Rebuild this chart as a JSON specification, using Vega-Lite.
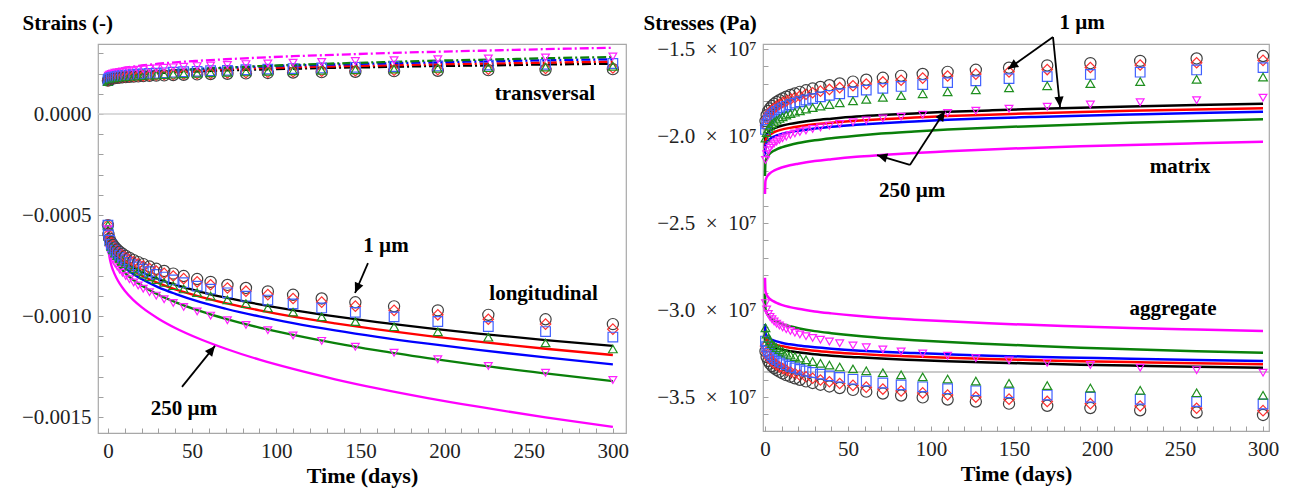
{
"$schema": "https://vega.github.io/schema/vega-lite/v6.json",
"background": "white",
"autosize": {"type": "pad"},
"padding": {"left": 20, "top": 11, "right": 2, "bottom": 2},
"spacing": 137,
"bounds": "flush",
"config": {
  "font": "Liberation Serif",
  "view": {"stroke": "#a8a8a8", "strokeWidth": 1.2},
  "axis": {"labelFont": "Liberation Serif", "labelFontSize": 21, "labelColor": "#222222", "titleFont": "Liberation Serif", "titleFontWeight": "bold", "titleColor": "#000000", "grid": false, "domain": false, "tickColor": "#a0a0a0", "tickSize": -5, "tickWidth": 1, "labelPadding": 12},
  "text": {"font": "Liberation Serif", "fontWeight": "bold", "fontSize": 21, "color": "#000000"}
},
"datasets": {
"LL": [
{"t":0,"k":-0.000550,"r":-0.000550,"b":-0.000550,"g":-0.000550,"m":-0.000580},
{"t":0.25,"k":-0.000600,"r":-0.000604,"b":-0.000608,"g":-0.000615,"m":-0.000661},
{"t":0.5,"k":-0.000614,"r":-0.000619,"b":-0.000623,"g":-0.000632,"m":-0.000683},
{"t":1,"k":-0.000631,"r":-0.000637,"b":-0.000644,"g":-0.000655,"m":-0.000712},
{"t":2,"k":-0.000654,"r":-0.000661,"b":-0.000669,"g":-0.000684,"m":-0.000748},
{"t":3,"k":-0.000669,"r":-0.000678,"b":-0.000688,"g":-0.000704,"m":-0.000773},
{"t":5,"k":-0.000693,"r":-0.000703,"b":-0.000714,"g":-0.000734,"m":-0.000811},
{"t":7,"k":-0.000711,"r":-0.000723,"b":-0.000735,"g":-0.000757,"m":-0.000840},
{"t":10,"k":-0.000732,"r":-0.000746,"b":-0.000760,"g":-0.000785,"m":-0.000875},
{"t":15,"k":-0.000760,"r":-0.000775,"b":-0.000792,"g":-0.000821,"m":-0.000920},
{"t":20,"k":-0.000782,"r":-0.000799,"b":-0.000817,"g":-0.000849,"m":-0.000956},
{"t":30,"k":-0.000817,"r":-0.000837,"b":-0.000858,"g":-0.000895,"m":-0.001013},
{"t":40,"k":-0.000845,"r":-0.000868,"b":-0.000890,"g":-0.000931,"m":-0.001059},
{"t":55,"k":-0.000880,"r":-0.000905,"b":-0.000931,"g":-0.000976,"m":-0.001115},
{"t":70,"k":-0.000909,"r":-0.000936,"b":-0.000964,"g":-0.001014,"m":-0.001162},
{"t":90,"k":-0.000942,"r":-0.000972,"b":-0.001002,"g":-0.001057,"m":-0.001216},
{"t":110,"k":-0.000971,"r":-0.001003,"b":-0.001035,"g":-0.001093,"m":-0.001262},
{"t":135,"k":-0.001002,"r":-0.001036,"b":-0.001071,"g":-0.001134,"m":-0.001313},
{"t":160,"k":-0.001030,"r":-0.001066,"b":-0.001103,"g":-0.001170,"m":-0.001358},
{"t":190,"k":-0.001060,"r":-0.001098,"b":-0.001137,"g":-0.001208,"m":-0.001406},
{"t":220,"k":-0.001087,"r":-0.001127,"b":-0.001168,"g":-0.001243,"m":-0.001449},
{"t":260,"k":-0.001119,"r":-0.001162,"b":-0.001205,"g":-0.001284,"m":-0.001502},
{"t":300,"k":-0.001148,"r":-0.001193,"b":-0.001239,"g":-0.001322,"m":-0.001549}
],
"LT": [
{"t":0,"k":0.000165,"r":0.000165,"b":0.000165,"g":0.000150,"m":0.000185},
{"t":0.25,"k":0.000172,"r":0.000173,"b":0.000174,"g":0.000161,"m":0.000197},
{"t":0.5,"k":0.000174,"r":0.000175,"b":0.000176,"g":0.000164,"m":0.000200},
{"t":1,"k":0.000176,"r":0.000178,"b":0.000179,"g":0.000168,"m":0.000204},
{"t":2,"k":0.000180,"r":0.000181,"b":0.000183,"g":0.000173,"m":0.000210},
{"t":3,"k":0.000182,"r":0.000184,"b":0.000186,"g":0.000176,"m":0.000214},
{"t":5,"k":0.000185,"r":0.000187,"b":0.000190,"g":0.000182,"m":0.000219},
{"t":7,"k":0.000188,"r":0.000190,"b":0.000194,"g":0.000185,"m":0.000223},
{"t":10,"k":0.000191,"r":0.000194,"b":0.000197,"g":0.000190,"m":0.000229},
{"t":15,"k":0.000194,"r":0.000198,"b":0.000202,"g":0.000196,"m":0.000235},
{"t":20,"k":0.000198,"r":0.000201,"b":0.000206,"g":0.000201,"m":0.000240},
{"t":30,"k":0.000203,"r":0.000207,"b":0.000212,"g":0.000209,"m":0.000249},
{"t":40,"k":0.000207,"r":0.000211,"b":0.000217,"g":0.000215,"m":0.000256},
{"t":55,"k":0.000211,"r":0.000217,"b":0.000224,"g":0.000223,"m":0.000264},
{"t":70,"k":0.000216,"r":0.000222,"b":0.000229,"g":0.000229,"m":0.000271},
{"t":90,"k":0.000220,"r":0.000227,"b":0.000235,"g":0.000237,"m":0.000279},
{"t":110,"k":0.000224,"r":0.000231,"b":0.000240,"g":0.000243,"m":0.000286},
{"t":135,"k":0.000229,"r":0.000236,"b":0.000245,"g":0.000250,"m":0.000293},
{"t":160,"k":0.000232,"r":0.000240,"b":0.000250,"g":0.000256,"m":0.000300},
{"t":190,"k":0.000237,"r":0.000245,"b":0.000255,"g":0.000263,"m":0.000307},
{"t":220,"k":0.000240,"r":0.000249,"b":0.000260,"g":0.000268,"m":0.000313},
{"t":260,"k":0.000245,"r":0.000254,"b":0.000266,"g":0.000276,"m":0.000321},
{"t":300,"k":0.000249,"r":0.000259,"b":0.000271,"g":0.000282,"m":0.000328}
],
"LML": [
{"t":0,"k":-0.000550,"r":-0.000550,"b":-0.000550,"g":-0.000550,"m":-0.000570},
{"t":0.3,"k":-0.000594,"r":-0.000596,"b":-0.000599,"g":-0.000605,"m":-0.000637},
{"t":1,"k":-0.000617,"r":-0.000620,"b":-0.000625,"g":-0.000633,"m":-0.000671},
{"t":2,"k":-0.000635,"r":-0.000639,"b":-0.000646,"g":-0.000656,"m":-0.000699},
{"t":3,"k":-0.000648,"r":-0.000653,"b":-0.000661,"g":-0.000672,"m":-0.000719},
{"t":4.2,"k":-0.000660,"r":-0.000666,"b":-0.000674,"g":-0.000688,"m":-0.000738},
{"t":5.5,"k":-0.000671,"r":-0.000677,"b":-0.000687,"g":-0.000701,"m":-0.000754},
{"t":7,"k":-0.000682,"r":-0.000688,"b":-0.000699,"g":-0.000715,"m":-0.000771},
{"t":8.7,"k":-0.000692,"r":-0.000699,"b":-0.000710,"g":-0.000728,"m":-0.000786},
{"t":10.6,"k":-0.000702,"r":-0.000710,"b":-0.000722,"g":-0.000740,"m":-0.000802},
{"t":12.8,"k":-0.000712,"r":-0.000721,"b":-0.000734,"g":-0.000753,"m":-0.000818},
{"t":15.3,"k":-0.000723,"r":-0.000732,"b":-0.000746,"g":-0.000766,"m":-0.000834},
{"t":18,"k":-0.000733,"r":-0.000742,"b":-0.000757,"g":-0.000779,"m":-0.000849},
{"t":21,"k":-0.000743,"r":-0.000753,"b":-0.000768,"g":-0.000792,"m":-0.000865},
{"t":24.7,"k":-0.000755,"r":-0.000765,"b":-0.000781,"g":-0.000806,"m":-0.000882},
{"t":28.7,"k":-0.000766,"r":-0.000777,"b":-0.000794,"g":-0.000820,"m":-0.000899},
{"t":33.4,"k":-0.000777,"r":-0.000789,"b":-0.000807,"g":-0.000834,"m":-0.000917},
{"t":38.8,"k":-0.000790,"r":-0.000802,"b":-0.000821,"g":-0.000850,"m":-0.000935},
{"t":45,"k":-0.000802,"r":-0.000815,"b":-0.000835,"g":-0.000866,"m":-0.000955},
{"t":53,"k":-0.000817,"r":-0.000831,"b":-0.000852,"g":-0.000884,"m":-0.000977},
{"t":61,"k":-0.000831,"r":-0.000845,"b":-0.000867,"g":-0.000901,"m":-0.000998},
{"t":71,"k":-0.000846,"r":-0.000861,"b":-0.000885,"g":-0.000920,"m":-0.001021},
{"t":82,"k":-0.000861,"r":-0.000877,"b":-0.000902,"g":-0.000939,"m":-0.001044},
{"t":95,"k":-0.000878,"r":-0.000894,"b":-0.000921,"g":-0.000960,"m":-0.001070},
{"t":110,"k":-0.000895,"r":-0.000913,"b":-0.000940,"g":-0.000981,"m":-0.001096},
{"t":127,"k":-0.000913,"r":-0.000931,"b":-0.000960,"g":-0.001004,"m":-0.001123},
{"t":147,"k":-0.000932,"r":-0.000951,"b":-0.000982,"g":-0.001028,"m":-0.001152},
{"t":170,"k":-0.000952,"r":-0.000972,"b":-0.001004,"g":-0.001053,"m":-0.001182},
{"t":196,"k":-0.000972,"r":-0.000994,"b":-0.001027,"g":-0.001078,"m":-0.001214},
{"t":226,"k":-0.000994,"r":-0.001016,"b":-0.001052,"g":-0.001105,"m":-0.001247},
{"t":260,"k":-0.001016,"r":-0.001040,"b":-0.001077,"g":-0.001133,"m":-0.001281},
{"t":300,"k":-0.001040,"r":-0.001065,"b":-0.001104,"g":-0.001163,"m":-0.001317}
],
"LMT": [
{"t":0,"k":0.000165,"r":0.000165,"b":0.000165,"g":0.000160,"m":0.000180},
{"t":0.3,"k":0.000170,"r":0.000171,"b":0.000173,"g":0.000167,"m":0.000189},
{"t":1,"k":0.000173,"r":0.000174,"b":0.000177,"g":0.000170,"m":0.000194},
{"t":2,"k":0.000175,"r":0.000176,"b":0.000180,"g":0.000173,"m":0.000198},
{"t":3,"k":0.000176,"r":0.000178,"b":0.000182,"g":0.000175,"m":0.000201},
{"t":4.2,"k":0.000178,"r":0.000179,"b":0.000184,"g":0.000177,"m":0.000204},
{"t":5.5,"k":0.000179,"r":0.000181,"b":0.000186,"g":0.000179,"m":0.000206},
{"t":7,"k":0.000180,"r":0.000182,"b":0.000188,"g":0.000180,"m":0.000208},
{"t":8.7,"k":0.000182,"r":0.000183,"b":0.000190,"g":0.000182,"m":0.000210},
{"t":10.6,"k":0.000183,"r":0.000185,"b":0.000191,"g":0.000184,"m":0.000213},
{"t":12.8,"k":0.000184,"r":0.000186,"b":0.000193,"g":0.000185,"m":0.000215},
{"t":15.3,"k":0.000185,"r":0.000187,"b":0.000195,"g":0.000187,"m":0.000217},
{"t":18,"k":0.000186,"r":0.000189,"b":0.000197,"g":0.000188,"m":0.000219},
{"t":21,"k":0.000188,"r":0.000190,"b":0.000199,"g":0.000190,"m":0.000221},
{"t":24.7,"k":0.000189,"r":0.000191,"b":0.000201,"g":0.000192,"m":0.000224},
{"t":28.7,"k":0.000190,"r":0.000193,"b":0.000202,"g":0.000193,"m":0.000226},
{"t":33.4,"k":0.000191,"r":0.000194,"b":0.000204,"g":0.000195,"m":0.000229},
{"t":38.8,"k":0.000193,"r":0.000196,"b":0.000207,"g":0.000197,"m":0.000231},
{"t":45,"k":0.000194,"r":0.000197,"b":0.000209,"g":0.000199,"m":0.000234},
{"t":53,"k":0.000196,"r":0.000199,"b":0.000211,"g":0.000201,"m":0.000237},
{"t":61,"k":0.000198,"r":0.000201,"b":0.000214,"g":0.000204,"m":0.000240},
{"t":71,"k":0.000199,"r":0.000203,"b":0.000216,"g":0.000206,"m":0.000243},
{"t":82,"k":0.000201,"r":0.000205,"b":0.000219,"g":0.000208,"m":0.000247},
{"t":95,"k":0.000203,"r":0.000207,"b":0.000222,"g":0.000211,"m":0.000250},
{"t":110,"k":0.000205,"r":0.000209,"b":0.000225,"g":0.000214,"m":0.000254},
{"t":127,"k":0.000207,"r":0.000212,"b":0.000228,"g":0.000216,"m":0.000258},
{"t":147,"k":0.000209,"r":0.000214,"b":0.000231,"g":0.000219,"m":0.000262},
{"t":170,"k":0.000212,"r":0.000217,"b":0.000235,"g":0.000222,"m":0.000266},
{"t":196,"k":0.000214,"r":0.000219,"b":0.000238,"g":0.000226,"m":0.000271},
{"t":226,"k":0.000217,"r":0.000222,"b":0.000242,"g":0.000229,"m":0.000275},
{"t":260,"k":0.000219,"r":0.000225,"b":0.000246,"g":0.000232,"m":0.000280},
{"t":300,"k":0.000222,"r":0.000228,"b":0.000250,"g":0.000236,"m":0.000285}
],
"RL": [
{"t":0,"k":-2.070e7,"r":-2.090e7,"b":-2.120e7,"g":-2.230e7,"m":-2.333e7},
{"t":0.25,"k":-2.008e7,"r":-2.029e7,"b":-2.057e7,"g":-2.151e7,"m":-2.260e7},
{"t":0.5,"k":-1.999e7,"r":-2.020e7,"b":-2.048e7,"g":-2.139e7,"m":-2.250e7},
{"t":1,"k":-1.989e7,"r":-2.010e7,"b":-2.037e7,"g":-2.126e7,"m":-2.237e7},
{"t":2,"k":-1.976e7,"r":-1.998e7,"b":-2.025e7,"g":-2.110e7,"m":-2.223e7},
{"t":3,"k":-1.969e7,"r":-1.991e7,"b":-2.017e7,"g":-2.100e7,"m":-2.214e7},
{"t":5,"k":-1.958e7,"r":-1.980e7,"b":-2.005e7,"g":-2.086e7,"m":-2.201e7},
{"t":7,"k":-1.950e7,"r":-1.972e7,"b":-1.997e7,"g":-2.076e7,"m":-2.192e7},
{"t":10,"k":-1.941e7,"r":-1.963e7,"b":-1.988e7,"g":-2.065e7,"m":-2.181e7},
{"t":15,"k":-1.930e7,"r":-1.953e7,"b":-1.977e7,"g":-2.051e7,"m":-2.168e7},
{"t":20,"k":-1.922e7,"r":-1.945e7,"b":-1.969e7,"g":-2.040e7,"m":-2.159e7},
{"t":30,"k":-1.909e7,"r":-1.932e7,"b":-1.956e7,"g":-2.024e7,"m":-2.144e7},
{"t":40,"k":-1.900e7,"r":-1.923e7,"b":-1.946e7,"g":-2.012e7,"m":-2.133e7},
{"t":55,"k":-1.888e7,"r":-1.912e7,"b":-1.935e7,"g":-1.998e7,"m":-2.119e7},
{"t":70,"k":-1.879e7,"r":-1.903e7,"b":-1.926e7,"g":-1.986e7,"m":-2.109e7},
{"t":90,"k":-1.870e7,"r":-1.894e7,"b":-1.916e7,"g":-1.974e7,"m":-2.097e7},
{"t":110,"k":-1.861e7,"r":-1.885e7,"b":-1.907e7,"g":-1.963e7,"m":-2.088e7},
{"t":135,"k":-1.853e7,"r":-1.877e7,"b":-1.898e7,"g":-1.952e7,"m":-2.077e7},
{"t":160,"k":-1.845e7,"r":-1.870e7,"b":-1.891e7,"g":-1.943e7,"m":-2.068e7},
{"t":190,"k":-1.837e7,"r":-1.862e7,"b":-1.883e7,"g":-1.933e7,"m":-2.059e7},
{"t":220,"k":-1.830e7,"r":-1.855e7,"b":-1.876e7,"g":-1.924e7,"m":-2.051e7},
{"t":260,"k":-1.822e7,"r":-1.847e7,"b":-1.867e7,"g":-1.913e7,"m":-2.042e7},
{"t":300,"k":-1.815e7,"r":-1.840e7,"b":-1.860e7,"g":-1.904e7,"m":-2.033e7}
],
"RA": [
{"t":0,"k":-3.120e7,"r":-3.100e7,"b":-3.080e7,"g":-2.908e7,"m":-2.814e7},
{"t":0.25,"k":-3.171e7,"r":-3.151e7,"b":-3.132e7,"g":-2.990e7,"m":-2.888e7},
{"t":0.5,"k":-3.179e7,"r":-3.159e7,"b":-3.139e7,"g":-3.002e7,"m":-2.899e7},
{"t":1,"k":-3.188e7,"r":-3.168e7,"b":-3.148e7,"g":-3.016e7,"m":-2.912e7},
{"t":2,"k":-3.198e7,"r":-3.178e7,"b":-3.158e7,"g":-3.032e7,"m":-2.927e7},
{"t":3,"k":-3.204e7,"r":-3.184e7,"b":-3.165e7,"g":-3.042e7,"m":-2.936e7},
{"t":5,"k":-3.214e7,"r":-3.194e7,"b":-3.174e7,"g":-3.057e7,"m":-2.949e7},
{"t":7,"k":-3.220e7,"r":-3.200e7,"b":-3.180e7,"g":-3.067e7,"m":-2.959e7},
{"t":10,"k":-3.227e7,"r":-3.207e7,"b":-3.188e7,"g":-3.079e7,"m":-2.970e7},
{"t":15,"k":-3.237e7,"r":-3.217e7,"b":-3.197e7,"g":-3.093e7,"m":-2.983e7},
{"t":20,"k":-3.243e7,"r":-3.223e7,"b":-3.204e7,"g":-3.104e7,"m":-2.993e7},
{"t":30,"k":-3.254e7,"r":-3.234e7,"b":-3.214e7,"g":-3.121e7,"m":-3.008e7},
{"t":40,"k":-3.262e7,"r":-3.242e7,"b":-3.222e7,"g":-3.133e7,"m":-3.019e7},
{"t":55,"k":-3.271e7,"r":-3.251e7,"b":-3.232e7,"g":-3.148e7,"m":-3.033e7},
{"t":70,"k":-3.279e7,"r":-3.259e7,"b":-3.239e7,"g":-3.160e7,"m":-3.044e7},
{"t":90,"k":-3.287e7,"r":-3.267e7,"b":-3.247e7,"g":-3.173e7,"m":-3.055e7},
{"t":110,"k":-3.294e7,"r":-3.274e7,"b":-3.254e7,"g":-3.184e7,"m":-3.065e7},
{"t":135,"k":-3.301e7,"r":-3.281e7,"b":-3.262e7,"g":-3.195e7,"m":-3.076e7},
{"t":160,"k":-3.307e7,"r":-3.287e7,"b":-3.268e7,"g":-3.205e7,"m":-3.085e7},
{"t":190,"k":-3.314e7,"r":-3.294e7,"b":-3.274e7,"g":-3.216e7,"m":-3.094e7},
{"t":220,"k":-3.319e7,"r":-3.299e7,"b":-3.280e7,"g":-3.225e7,"m":-3.103e7},
{"t":260,"k":-3.326e7,"r":-3.306e7,"b":-3.287e7,"g":-3.236e7,"m":-3.112e7},
{"t":300,"k":-3.332e7,"r":-3.312e7,"b":-3.293e7,"g":-3.245e7,"m":-3.121e7}
],
"RMM": [
{"t":0.3,"k":-1.914e7,"r":-1.937e7,"b":-1.962e7,"g":-2.012e7,"m":-2.137e7},
{"t":1,"k":-1.880e7,"r":-1.903e7,"b":-1.930e7,"g":-1.980e7,"m":-2.105e7},
{"t":2,"k":-1.856e7,"r":-1.880e7,"b":-1.907e7,"g":-1.958e7,"m":-2.082e7},
{"t":3,"k":-1.841e7,"r":-1.864e7,"b":-1.892e7,"g":-1.943e7,"m":-2.067e7},
{"t":4.2,"k":-1.827e7,"r":-1.850e7,"b":-1.879e7,"g":-1.930e7,"m":-2.054e7},
{"t":5.5,"k":-1.815e7,"r":-1.839e7,"b":-1.868e7,"g":-1.919e7,"m":-2.043e7},
{"t":7,"k":-1.804e7,"r":-1.828e7,"b":-1.858e7,"g":-1.909e7,"m":-2.032e7},
{"t":8.7,"k":-1.794e7,"r":-1.817e7,"b":-1.848e7,"g":-1.899e7,"m":-2.022e7},
{"t":10.6,"k":-1.784e7,"r":-1.807e7,"b":-1.838e7,"g":-1.890e7,"m":-2.013e7},
{"t":12.8,"k":-1.774e7,"r":-1.798e7,"b":-1.829e7,"g":-1.880e7,"m":-2.003e7},
{"t":15.3,"k":-1.764e7,"r":-1.788e7,"b":-1.820e7,"g":-1.871e7,"m":-1.994e7},
{"t":18,"k":-1.755e7,"r":-1.779e7,"b":-1.811e7,"g":-1.863e7,"m":-1.985e7},
{"t":21,"k":-1.746e7,"r":-1.770e7,"b":-1.803e7,"g":-1.855e7,"m":-1.977e7},
{"t":24.7,"k":-1.737e7,"r":-1.760e7,"b":-1.793e7,"g":-1.845e7,"m":-1.968e7},
{"t":28.7,"k":-1.727e7,"r":-1.751e7,"b":-1.785e7,"g":-1.837e7,"m":-1.959e7},
{"t":33.4,"k":-1.718e7,"r":-1.742e7,"b":-1.775e7,"g":-1.828e7,"m":-1.950e7},
{"t":38.8,"k":-1.708e7,"r":-1.732e7,"b":-1.766e7,"g":-1.819e7,"m":-1.940e7},
{"t":45,"k":-1.698e7,"r":-1.722e7,"b":-1.757e7,"g":-1.809e7,"m":-1.931e7},
{"t":53,"k":-1.687e7,"r":-1.711e7,"b":-1.746e7,"g":-1.798e7,"m":-1.920e7},
{"t":61,"k":-1.676e7,"r":-1.701e7,"b":-1.736e7,"g":-1.789e7,"m":-1.910e7},
{"t":71,"k":-1.665e7,"r":-1.689e7,"b":-1.726e7,"g":-1.778e7,"m":-1.899e7},
{"t":82,"k":-1.654e7,"r":-1.679e7,"b":-1.715e7,"g":-1.768e7,"m":-1.889e7},
{"t":95,"k":-1.643e7,"r":-1.667e7,"b":-1.704e7,"g":-1.757e7,"m":-1.878e7},
{"t":110,"k":-1.631e7,"r":-1.655e7,"b":-1.693e7,"g":-1.746e7,"m":-1.867e7},
{"t":127,"k":-1.619e7,"r":-1.644e7,"b":-1.682e7,"g":-1.735e7,"m":-1.855e7},
{"t":147,"k":-1.607e7,"r":-1.631e7,"b":-1.670e7,"g":-1.723e7,"m":-1.843e7},
{"t":170,"k":-1.594e7,"r":-1.618e7,"b":-1.658e7,"g":-1.711e7,"m":-1.831e7},
{"t":196,"k":-1.581e7,"r":-1.606e7,"b":-1.646e7,"g":-1.699e7,"m":-1.819e7},
{"t":226,"k":-1.568e7,"r":-1.592e7,"b":-1.633e7,"g":-1.687e7,"m":-1.806e7},
{"t":260,"k":-1.554e7,"r":-1.579e7,"b":-1.620e7,"g":-1.674e7,"m":-1.794e7},
{"t":300,"k":-1.540e7,"r":-1.565e7,"b":-1.607e7,"g":-1.661e7,"m":-1.780e7}
],
"RAM": [
{"t":0.3,"k":-3.236e7,"r":-3.207e7,"b":-3.178e7,"g":-3.102e7,"m":-2.960e7},
{"t":1,"k":-3.270e7,"r":-3.241e7,"b":-3.211e7,"g":-3.138e7,"m":-2.997e7},
{"t":2,"k":-3.293e7,"r":-3.264e7,"b":-3.234e7,"g":-3.162e7,"m":-3.022e7},
{"t":3,"k":-3.308e7,"r":-3.280e7,"b":-3.249e7,"g":-3.178e7,"m":-3.039e7},
{"t":4.2,"k":-3.322e7,"r":-3.294e7,"b":-3.263e7,"g":-3.193e7,"m":-3.053e7},
{"t":5.5,"k":-3.333e7,"r":-3.305e7,"b":-3.274e7,"g":-3.205e7,"m":-3.066e7},
{"t":7,"k":-3.344e7,"r":-3.316e7,"b":-3.285e7,"g":-3.216e7,"m":-3.078e7},
{"t":8.7,"k":-3.354e7,"r":-3.327e7,"b":-3.295e7,"g":-3.227e7,"m":-3.089e7},
{"t":10.6,"k":-3.364e7,"r":-3.336e7,"b":-3.304e7,"g":-3.237e7,"m":-3.100e7},
{"t":12.8,"k":-3.374e7,"r":-3.346e7,"b":-3.314e7,"g":-3.248e7,"m":-3.110e7},
{"t":15.3,"k":-3.383e7,"r":-3.356e7,"b":-3.323e7,"g":-3.258e7,"m":-3.120e7},
{"t":18,"k":-3.392e7,"r":-3.365e7,"b":-3.332e7,"g":-3.267e7,"m":-3.130e7},
{"t":21,"k":-3.401e7,"r":-3.374e7,"b":-3.341e7,"g":-3.276e7,"m":-3.140e7},
{"t":24.7,"k":-3.410e7,"r":-3.383e7,"b":-3.350e7,"g":-3.286e7,"m":-3.150e7},
{"t":28.7,"k":-3.419e7,"r":-3.392e7,"b":-3.359e7,"g":-3.296e7,"m":-3.160e7},
{"t":33.4,"k":-3.429e7,"r":-3.402e7,"b":-3.368e7,"g":-3.306e7,"m":-3.170e7},
{"t":38.8,"k":-3.439e7,"r":-3.412e7,"b":-3.378e7,"g":-3.316e7,"m":-3.181e7},
{"t":45,"k":-3.448e7,"r":-3.422e7,"b":-3.387e7,"g":-3.327e7,"m":-3.191e7},
{"t":53,"k":-3.459e7,"r":-3.433e7,"b":-3.398e7,"g":-3.338e7,"m":-3.204e7},
{"t":61,"k":-3.469e7,"r":-3.443e7,"b":-3.408e7,"g":-3.349e7,"m":-3.214e7},
{"t":71,"k":-3.480e7,"r":-3.454e7,"b":-3.419e7,"g":-3.360e7,"m":-3.226e7},
{"t":82,"k":-3.491e7,"r":-3.465e7,"b":-3.430e7,"g":-3.372e7,"m":-3.238e7},
{"t":95,"k":-3.502e7,"r":-3.476e7,"b":-3.441e7,"g":-3.384e7,"m":-3.250e7},
{"t":110,"k":-3.514e7,"r":-3.488e7,"b":-3.452e7,"g":-3.396e7,"m":-3.263e7},
{"t":127,"k":-3.526e7,"r":-3.500e7,"b":-3.464e7,"g":-3.408e7,"m":-3.276e7},
{"t":147,"k":-3.538e7,"r":-3.512e7,"b":-3.476e7,"g":-3.421e7,"m":-3.289e7},
{"t":170,"k":-3.550e7,"r":-3.525e7,"b":-3.488e7,"g":-3.434e7,"m":-3.303e7},
{"t":196,"k":-3.563e7,"r":-3.538e7,"b":-3.501e7,"g":-3.448e7,"m":-3.316e7},
{"t":226,"k":-3.576e7,"r":-3.551e7,"b":-3.513e7,"g":-3.461e7,"m":-3.331e7},
{"t":260,"k":-3.589e7,"r":-3.564e7,"b":-3.526e7,"g":-3.475e7,"m":-3.345e7},
{"t":300,"k":-3.603e7,"r":-3.578e7,"b":-3.540e7,"g":-3.490e7,"m":-3.360e7}
],
"LARR": [
{"id":1,"t":154.5,"v":-0.000738,"t2":146.8,"v2":-0.000886},
{"id":2,"t":44,"v":-0.001351,"t2":63.6,"v2":-0.001148}
],
"RARR": [
{"id":1,"t":173.5,"v":-1.431e7,"t2":146.4,"v2":-1.615e7},
{"id":2,"t":173.5,"v":-1.431e7,"t2":177.7,"v2":-1.833e7},
{"id":3,"t":87.3,"v":-2.166e7,"t2":67.5,"v2":-2.109e7},
{"id":4,"t":87.3,"v":-2.166e7,"t2":108.4,"v2":-1.856e7}
]
},
"hconcat": [
{
"width": 528, "height": 389,
"encoding": {
  "x": {"field": "t", "type": "quantitative", "scale": {"domain": [-5.9, 307.8], "nice": false, "zero": false},
        "axis": {"values": [0,10,20,30,40,50,60,70,80,90,100,110,120,130,140,150,160,170,180,190,200,210,220,230,240,250,260,270,280,290,300], "labelExpr": "datum.value % 50 == 0 ? datum.label : ''", "labelFont": "Liberation Serif", "labelFontSize": 21, "title": "Time (days)", "titleFontSize": 22, "titlePadding": 4}},
  "y": {"field": "v", "type": "quantitative", "scale": {"domain": [-0.001579, 0.0003465], "nice": false, "zero": false},
        "axis": {"values": [-0.0015,-0.0014,-0.0013,-0.0012,-0.0011,-0.001,-0.0009,-0.0008,-0.0007,-0.0006,-0.0005,-0.0004,-0.0003,-0.0002,-0.0001,0,0.0001,0.0002,0.0003],
                 "labelExpr": "abs(round(datum.value*10000)) % 5 == 0 ? (abs(datum.value) < 1e-9 ? '0.0000' : '−' + format(abs(datum.value), '.4f')) : ''",
                 "labelFont": "Liberation Serif", "labelFontSize": 21,
                 "title": "Strains (-)", "titleAngle": 0, "titleAlign": "left", "titleBaseline": "alphabetic", "titleX": -76, "titleY": -15, "titleFontSize": 21}}
},
"layer": [
  {"data": {"values": [{"t": -5.9, "t2": 307.8, "v": 0}]}, "mark": {"type": "rule", "color": "#cfcfcf", "strokeWidth": 1.5}, "encoding": {"x2": {"field": "t2"}}},
  {"data": {"name": "LL"}, "transform": [{"fold": ["k","r","b","g","m"], "as": ["s","v"]}],
   "mark": {"type": "line", "strokeWidth": 2.3, "interpolate": "monotone"},
   "encoding": {"color": {"field": "s", "type": "nominal", "legend": null, "scale": {"domain": ["k","r","b","g","m"], "range": ["#000000","#ff0000","#0000ff","#0a800a","#ff00ff"]}}, "detail": {"field": "s"}}},
  {"data": {"name": "LT"}, "transform": [{"fold": ["k","r","b","g","m"], "as": ["s","v"]}],
   "mark": {"type": "line", "strokeWidth": 2.3, "interpolate": "monotone", "strokeDash": [9,3,2,3]},
   "encoding": {"color": {"field": "s", "type": "nominal", "legend": null}, "detail": {"field": "s"}}},
  {"data": {"name": "LML"}, "transform": [{"fold": ["k","r","b","g","m"], "as": ["s","v"]}],
   "mark": {"type": "point", "filled": false, "strokeWidth": 1.2, "opacity": 1},
   "encoding": {"stroke": {"field": "s", "type": "nominal", "legend": null, "scale": {"domain": ["k","r","b","g","m"], "range": ["#404040","#ff3030","#4060ff","#1f8f1f","#ff20ff"]}},
                "shape": {"field": "s", "type": "nominal", "legend": null, "scale": {"domain": ["k","r","b","g","m"], "range": ["circle","diamond","square","triangle-up","triangle-down"]}},
                "size": {"field": "s", "type": "nominal", "legend": null, "scale": {"domain": ["k","r","b","g","m"], "range": [125,60,100,250,250]}}}},
  {"data": {"name": "LMT"}, "transform": [{"fold": ["k","r","b","g","m"], "as": ["s","v"]}],
   "mark": {"type": "point", "filled": false, "strokeWidth": 1.2, "opacity": 1},
   "encoding": {"stroke": {"field": "s", "type": "nominal", "legend": null},
                "shape": {"field": "s", "type": "nominal", "legend": null},
                "size": {"field": "s", "type": "nominal", "legend": null}}},
  {"data": {"name": "LARR"}, "mark": {"type": "rule", "color": "#000000", "strokeWidth": 1.8}, "encoding": {"x2": {"field": "t2"}, "y2": {"field": "v2"}}},
  {"data": {"name": "LARR"}, "transform": [{"filter": "datum.id == 1"}], "mark": {"type": "point", "shape": "M0,0L0.45,1L-0.45,1Z", "filled": true, "color": "#000000", "opacity": 1, "size": 420, "angle": 203.4},
   "encoding": {"x": {"field": "t2", "type": "quantitative"}, "y": {"field": "v2", "type": "quantitative"}}},
  {"data": {"name": "LARR"}, "transform": [{"filter": "datum.id == 2"}], "mark": {"type": "point", "shape": "M0,0L0.45,1L-0.45,1Z", "filled": true, "color": "#000000", "opacity": 1, "size": 420, "angle": 38.8},
   "encoding": {"x": {"field": "t2", "type": "quantitative"}, "y": {"field": "v2", "type": "quantitative"}}},
  {"data": {"values": [{"t": 289.4, "v": 0.000099, "label": "transversal"}, {"t": 291.1, "v": -0.000891, "label": "longitudinal"}]},
   "mark": {"type": "text", "align": "right", "baseline": "middle"}, "encoding": {"text": {"field": "label"}}},
  {"data": {"values": [{"t": 165.2, "v": -0.000653, "label": "1 µm"}, {"t": 45.2, "v": -0.00146, "label": "250 µm"}]},
   "mark": {"type": "text", "align": "center", "baseline": "middle"}, "encoding": {"text": {"field": "label"}}}
]
},
{
"width": 506, "height": 387,
"encoding": {
  "x": {"field": "t", "type": "quantitative", "scale": {"domain": [-1.2, 303.6], "nice": false, "zero": false},
        "axis": {"values": [0,10,20,30,40,50,60,70,80,90,100,110,120,130,140,150,160,170,180,190,200,210,220,230,240,250,260,270,280,290,300], "labelExpr": "datum.value % 50 == 0 ? datum.label : ''", "labelFont": "Liberation Serif", "labelFontSize": 21, "title": "Time (days)", "titleFontSize": 22, "titlePadding": 4}},
  "y": {"field": "v", "type": "quantitative", "scale": {"domain": [-3.695e7, -1.471e7], "nice": false, "zero": false},
        "axis": {"values": [-3.6e7,-3.5e7,-3.4e7,-3.3e7,-3.2e7,-3.1e7,-3.0e7,-2.9e7,-2.8e7,-2.7e7,-2.6e7,-2.5e7,-2.4e7,-2.3e7,-2.2e7,-2.1e7,-2.0e7,-1.9e7,-1.8e7,-1.7e7,-1.6e7,-1.5e7],
                 "labelExpr": "abs(round(datum.value/1e6)) % 5 == 0 ? '−' + format(abs(datum.value)/1e7, '.1f') + '\u2002×\u200210⁷' : ''",
                 "labelFont": "Liberation Serif", "labelFontSize": 21,
                 "title": "Stresses (Pa)", "titleAngle": 0, "titleAlign": "left", "titleBaseline": "alphabetic", "titleX": -120, "titleY": -15, "titleFontSize": 21}}
},
"layer": [
  {"data": {"values": [{"t": -1.2, "t2": 303.6, "v": -3.356e7}]}, "mark": {"type": "rule", "color": "#b8b8b8", "strokeWidth": 1.5}, "encoding": {"x2": {"field": "t2"}}},
  {"data": {"name": "RL"}, "transform": [{"fold": ["k","r","b","g","m"], "as": ["s","v"]}],
   "mark": {"type": "line", "strokeWidth": 2.5, "interpolate": "monotone"},
   "encoding": {"color": {"field": "s", "type": "nominal", "legend": null, "scale": {"domain": ["k","r","b","g","m"], "range": ["#000000","#ff0000","#0000ff","#0a800a","#ff00ff"]}}, "detail": {"field": "s"}}},
  {"data": {"name": "RA"}, "transform": [{"fold": ["k","r","b","g","m"], "as": ["s","v"]}],
   "mark": {"type": "line", "strokeWidth": 2.5, "interpolate": "monotone"},
   "encoding": {"color": {"field": "s", "type": "nominal", "legend": null}, "detail": {"field": "s"}}},
  {"data": {"name": "RMM"}, "transform": [{"fold": ["k","r","b","g","m"], "as": ["s","v"]}],
   "mark": {"type": "point", "filled": false, "strokeWidth": 1.2, "opacity": 1},
   "encoding": {"stroke": {"field": "s", "type": "nominal", "legend": null, "scale": {"domain": ["k","r","b","g","m"], "range": ["#404040","#ff3030","#4060ff","#1f8f1f","#ff20ff"]}},
                "shape": {"field": "s", "type": "nominal", "legend": null, "scale": {"domain": ["k","r","b","g","m"], "range": ["circle","diamond","square","triangle-up","triangle-down"]}},
                "size": {"field": "s", "type": "nominal", "legend": null, "scale": {"domain": ["k","r","b","g","m"], "range": [125,60,100,250,250]}}}},
  {"data": {"name": "RAM"}, "transform": [{"fold": ["k","r","b","g","m"], "as": ["s","v"]}],
   "mark": {"type": "point", "filled": false, "strokeWidth": 1.2, "opacity": 1},
   "encoding": {"stroke": {"field": "s", "type": "nominal", "legend": null},
                "shape": {"field": "s", "type": "nominal", "legend": null},
                "size": {"field": "s", "type": "nominal", "legend": null}}},
  {"data": {"name": "RARR"}, "mark": {"type": "rule", "color": "#000000", "strokeWidth": 1.8}, "encoding": {"x2": {"field": "t2"}, "y2": {"field": "v2"}}},
  {"data": {"name": "RARR"}, "transform": [{"filter": "datum.id == 1"}], "mark": {"type": "point", "shape": "M0,0L0.45,1L-0.45,1Z", "filled": true, "color": "#000000", "opacity": 1, "size": 420, "angle": 234.6},
   "encoding": {"x": {"field": "t2", "type": "quantitative"}, "y": {"field": "v2", "type": "quantitative"}}},
  {"data": {"name": "RARR"}, "transform": [{"filter": "datum.id == 2"}], "mark": {"type": "point", "shape": "M0,0L0.45,1L-0.45,1Z", "filled": true, "color": "#000000", "opacity": 1, "size": 420, "angle": 174.3},
   "encoding": {"x": {"field": "t2", "type": "quantitative"}, "y": {"field": "v2", "type": "quantitative"}}},
  {"data": {"name": "RARR"}, "transform": [{"filter": "datum.id == 3"}], "mark": {"type": "point", "shape": "M0,0L0.45,1L-0.45,1Z", "filled": true, "color": "#000000", "opacity": 1, "size": 420, "angle": 286.9},
   "encoding": {"x": {"field": "t2", "type": "quantitative"}, "y": {"field": "v2", "type": "quantitative"}}},
  {"data": {"name": "RARR"}, "transform": [{"filter": "datum.id == 4"}], "mark": {"type": "point", "shape": "M0,0L0.45,1L-0.45,1Z", "filled": true, "color": "#000000", "opacity": 1, "size": 420, "angle": 33.0},
   "encoding": {"x": {"field": "t2", "type": "quantitative"}, "y": {"field": "v2", "type": "quantitative"}}},
  {"data": {"values": [{"t": 191, "v": -1.350e7, "label": "1 µm"}, {"t": 88.6, "v": -2.316e7, "label": "250 µm"}, {"t": 250, "v": -2.178e7, "label": "matrix"}, {"t": 245.8, "v": -2.994e7, "label": "aggregate"}]},
   "mark": {"type": "text", "align": "center", "baseline": "middle"}, "encoding": {"text": {"field": "label"}}}
]
}
]
}
